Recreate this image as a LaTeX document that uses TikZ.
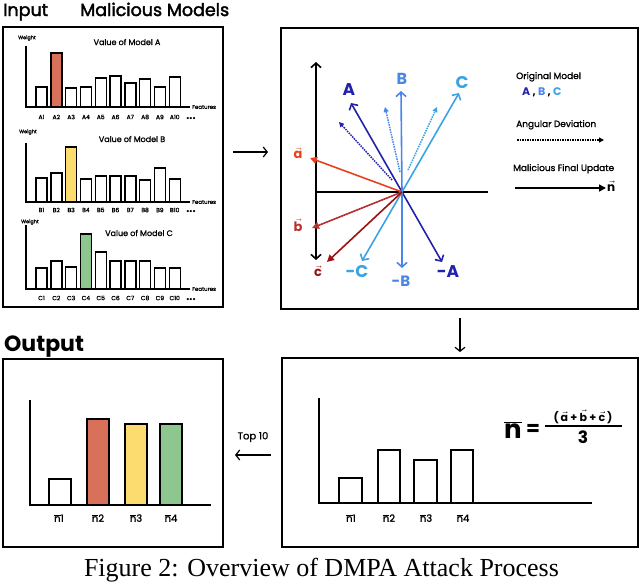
\documentclass[tikz,border=0pt]{standalone}
\usepackage{fontspec}
\setsansfont{Poppins}
\newfontfamily\medfont[FakeBold=1.3]{Poppins}
\newfontfamily\titlefont[FakeBold=2.2]{Poppins}
\newfontfamily\boldfont{Poppins}
\newfontfamily\capfont{Liberation Serif}
\usetikzlibrary{arrows.meta}
\definecolor{barred}{HTML}{D9705A}
\definecolor{baryel}{HTML}{FCDC6E}
\definecolor{bargrn}{HTML}{8DC68E}
\definecolor{vA}{HTML}{2222AA}
\definecolor{vB}{HTML}{4A85E8}
\definecolor{vC}{HTML}{3BA3E2}
\definecolor{ra}{HTML}{E8411F}
\definecolor{rb}{HTML}{B83232}
\definecolor{rc}{HTML}{9C1212}
\newcommand\myvec[1]{$\vec{\mbox{#1}}$}
\newcommand\mybar[1]{$\overline{\mbox{#1}}$}
\begin{document}
\begin{tikzpicture}[x=1pt,y=-1pt,
  panel/.style={draw=black,line width=2pt},
  barbox/.style={draw=black,line width=1.4pt},
  axisline/.style={draw=black,line width=1.4pt},
  mtxt/.style={inner sep=0pt,font=\medfont\fontsize{#1}{#1}\selectfont},
  ttxt/.style={inner sep=0pt,font=\titlefont\fontsize{#1}{#1}\selectfont},
  btxt/.style={inner sep=0pt,font=\boldfont\bfseries\fontsize{#1}{#1}\selectfont},
  flow/.style={draw=black,line width=1.2pt,-{Straight Barb[length=4pt,width=10pt]}},
  vecarrow/.style={line width=1.6pt,-{Straight Barb[length=4.5pt,width=10pt]}},
  redarrow/.style={line width=1.6pt,-{Triangle[length=7pt,width=7pt]}},
  dotarrow/.style={line width=1.5pt,dash pattern=on 1.5pt off 1pt,-{Triangle[length=5pt,width=5pt]}},
]
\useasboundingbox (0,0) rectangle (640,582);

% ---------------- titles
\node[ttxt=17.5,anchor=base west] (tin) at (3,16) {Input};
\node[ttxt=17.5,anchor=base west] (tmm) at (80,16) {Malicious Models};
\node[btxt=22,anchor=base west] (tout) at (4,351) {Output};

% ---------------- panels
\draw[panel] (3,27) rectangle (223,307);
\draw[panel] (281,28) rectangle (638,309);
\draw[panel] (3,359) rectangle (223,547);
\draw[panel] (282,358) rectangle (638,547);

% ---------------- chart A
\node[mtxt=5] (wA) at (27,38) {Weight};
\node[mtxt=8] (vAt) at (127,42) {Value of Model A};
\draw[axisline] (26,46) -- (26,107) -- (190,107);
\foreach \t [count=\i] in {87,53,88,87,78,76,83,79,87,77} {
  \pgfmathsetmacro\xl{36+14.8*(\i-1)}
  \draw[barbox] (\xl,107) rectangle (\xl+11,\t);
  \node[mtxt=6] (lA\i) at (\xl+5.5,117) {A\i};
}
\draw[barbox,fill=barred] (50.8,107) rectangle (61.8,53);
\node[mtxt=5.5,anchor=west] (fA) at (192,107) {Features};
\node[btxt=11,anchor=base] (dA) at (191,119) {...};

% ---------------- chart B
\node[mtxt=5] (wB) at (28,132) {Weight};
\node[mtxt=8] (vBt) at (132,139) {Value of Model B};
\draw[axisline] (26,143) -- (26,202) -- (190,202);
\foreach \t [count=\i] in {178,173,147,179,176,176,176,180,168,179} {
  \pgfmathsetmacro\xl{36+14.8*(\i-1)}
  \draw[barbox] (\xl,202) rectangle (\xl+11,\t);
  \node[mtxt=6] (lB\i) at (\xl+5.5,210) {B\i};
}
\draw[barbox,fill=baryel] (65.6,202) rectangle (76.6,147);
\node[mtxt=5.5,anchor=west] (fB) at (192,202) {Features};
\node[btxt=11,anchor=base] (dB) at (191,212) {...};

% ---------------- chart C
\node[mtxt=5] (wC) at (30,222) {Weight};
\node[mtxt=8] (vCt) at (139,233) {Value of Model C};
\draw[axisline] (26,225) -- (26,289) -- (190,289);
\foreach \t [count=\i] in {268,261,267,234,252,261,261,261,268,268} {
  \pgfmathsetmacro\xl{36+14.8*(\i-1)}
  \draw[barbox] (\xl,289) rectangle (\xl+11,\t);
  \node[mtxt=6] (lC\i) at (\xl+5.5,298) {C\i};
}
\draw[barbox,fill=bargrn] (80.4,289) rectangle (91.4,234);
\node[mtxt=5.5,anchor=west] (fC) at (192,289) {Features};
\node[btxt=11,anchor=base] (dC) at (191,300) {...};

% ---------------- flow arrows
\coordinate (f1s) at (233,152); \coordinate (f1e) at (268,152);
\draw[flow] (f1s) -- (f1e);
\coordinate (f2s) at (460,318); \coordinate (f2e) at (460,352);
\draw[flow] (f2s) -- (f2e);
\coordinate (f3s) at (271,455); \coordinate (f3e) at (235,455);
\draw[flow] (f3s) -- (f3e);
\node[mtxt=10] (top) at (253,437) {Top 10};

% ---------------- vector panel
\coordinate (O) at (402,192);
\coordinate (yt) at (316,62); \coordinate (yb) at (316,260);
\coordinate (xl) at (316,192); \coordinate (xr) at (488,192);
\draw[line width=1.6pt,{Straight Barb[length=4.5pt,width=10pt]}-{Straight Barb[length=4.5pt,width=10pt]}] (yt) -- (yb);
\draw[line width=1.6pt] (xl) -- (xr);

\coordinate (eA) at (351,103); \coordinate (eB) at (401,91); \coordinate (eC) at (459,93);
\coordinate (enA) at (442,262); \coordinate (enB) at (402,268); \coordinate (enC) at (362,261);
\coordinate (sdA) at (392,180); \coordinate (edA) at (339,122);
\coordinate (sdB) at (400,172); \coordinate (edB) at (385,107);
\coordinate (sdC) at (408,170); \coordinate (edC) at (437,107);
\coordinate (ea) at (310,158); \coordinate (eb) at (312,228); \coordinate (ec) at (327,262);

\draw[dotarrow,vA] (sdA) -- (edA);
\draw[dotarrow,vB] (sdB) -- (edB);
\draw[dotarrow,vC] (sdC) -- (edC);
\draw[vecarrow,vA] (O) -- (eA);
\draw[vecarrow,vA] (O) -- (enA);
\draw[vecarrow,vB] (O) -- (eB);
\draw[vecarrow,vB] (O) -- (enB);
\draw[vecarrow,vC] (O) -- (eC);
\draw[vecarrow,vC] (O) -- (enC);
\draw[redarrow,ra] (O) -- (ea);
\draw[redarrow,rb] (O) -- (eb);
\draw[redarrow,rc] (O) -- (ec);

\node[btxt=17,text=vA] (LA) at (349,90) {A};
\node[btxt=16,text=vB] (LB) at (402,79) {B};
\node[btxt=17,text=vC] (LC) at (462,83) {C};
\node[btxt=17,text=vA] (LnA) at (448,272) {-A};
\node[btxt=15,text=vB] (LnB) at (401,281) {-B};
\node[btxt=17,text=vC] (LnC) at (357,272) {-C};
\node[btxt=13,text=ra] (La) at (298,153) {\myvec{a}};
\node[btxt=13,text=rb] (Lb) at (298,225) {\myvec{b}};
\node[btxt=13,text=rc] (Lc) at (318,271) {\myvec{c}};

% legend
\node[mtxt=9,anchor=base west] (lg1) at (516,79) {Original Model};
\node[btxt=11,anchor=base west] (lg2) at (522,95) {\textcolor{vA}{A} , \textcolor{vB}{B} , \textcolor{vC}{C}};
\node[mtxt=9,anchor=base west] (lg3) at (516,127) {Angular Deviation};
\coordinate (lgd1) at (517,140); \coordinate (lgd2) at (604,140);
\draw[dotarrow,black] (lgd1) -- (lgd2);
\node[mtxt=9,anchor=base west] (lg4) at (513,171) {Malicious Final Update};
\coordinate (lgs1) at (515,188); \coordinate (lgs2) at (606,188);
\draw[line width=1.6pt,-{Triangle[length=7pt,width=7pt]}] (lgs1) -- (lgs2);
\node[btxt=12,anchor=west] (lgn) at (607,186) {\myvec{n}};

% ---------------- mean panel
\draw[axisline] (319,398) -- (319,503) -- (592,503);
\draw[barbox] (339,503) rectangle (362,478);
\draw[barbox] (378,503) rectangle (400,450);
\draw[barbox] (414,503) rectangle (437,460);
\draw[barbox] (451,503) rectangle (473,450);
\node[mtxt=10] (m1) at (351,518) {\mybar{n}1};
\node[mtxt=10] (m2) at (389,518) {\mybar{n}2};
\node[mtxt=10] (m3) at (426,518) {\mybar{n}3};
\node[mtxt=10] (m4) at (463,518) {\mybar{n}4};
\node[btxt=26,anchor=base] (nb) at (513,438) {\mybar{n}};
\node[btxt=20] (eq) at (533,430) {=};
\node[btxt=11,anchor=base] (num) at (583,421) {(\,\myvec{a} + \myvec{b} + \myvec{c}\,)};
\coordinate (fr1) at (545,426); \coordinate (fr2) at (622,426);
\draw[line width=1.3pt] (fr1) -- (fr2);
\node[btxt=17,anchor=base] (den) at (583,443) {3};

% ---------------- output panel
\draw[axisline] (30,400) -- (30,505) -- (211,505);
\draw[barbox] (49,505) rectangle (71,479);
\draw[barbox,fill=barred] (87,505) rectangle (109,419);
\draw[barbox,fill=baryel] (125,505) rectangle (147,424);
\draw[barbox,fill=bargrn] (160,505) rectangle (182,424);
\node[mtxt=10] (o1) at (59,518) {\mybar{n}1};
\node[mtxt=10] (o2) at (98,518) {\mybar{n}2};
\node[mtxt=10] (o3) at (136,518) {\mybar{n}3};
\node[mtxt=10] (o4) at (171,518) {\mybar{n}4};

% ---------------- caption
\node[inner sep=0pt,font=\capfont\fontsize{26}{26}\selectfont,anchor=base] (cap) at (321.5,576) {Figure 2: Overview of DMPA Attack Process};
\end{tikzpicture}
\end{document}
